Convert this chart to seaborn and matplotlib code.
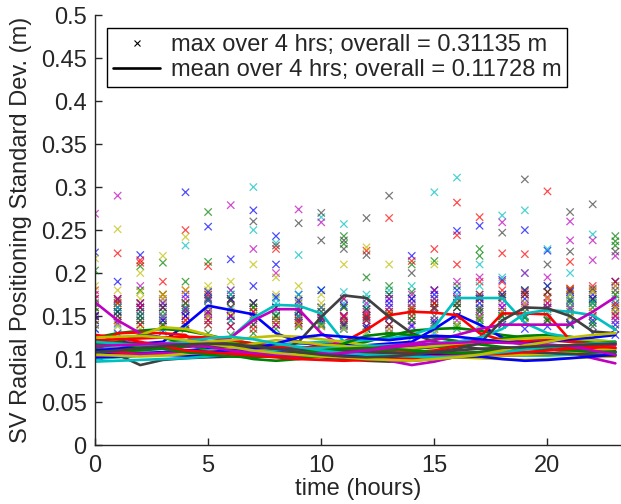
import numpy as np
import pandas as pd
import matplotlib
matplotlib.use("Agg")
import matplotlib.pyplot as plt
from matplotlib.lines import Line2D
from matplotlib.ticker import FuncFormatter
import seaborn as sns

# --- DATA: hourly 4-hr window stats per satellite, grouped by plot colour ---
hours = list(range(24))

blue_mean = [
    [0.118, 0.120, 0.118, 0.120, 0.140, 0.162, 0.157, 0.152, 0.130, 0.120, 0.115, 0.112, 0.110, 0.112, 0.115, 0.118, 0.120, 0.122, 0.120, 0.118, 0.116, 0.115, 0.114, 0.113],
    [0.105, 0.106, 0.107, 0.108, 0.110, 0.112, 0.113, 0.115, 0.117, 0.118, 0.118, 0.117, 0.116, 0.118, 0.120, 0.135, 0.152, 0.140, 0.125, 0.118, 0.115, 0.112, 0.110, 0.108],
    [0.102, 0.103, 0.104, 0.105, 0.104, 0.103, 0.104, 0.106, 0.108, 0.107, 0.105, 0.104, 0.103, 0.102, 0.104, 0.106, 0.105, 0.103, 0.100, 0.098, 0.099, 0.101, 0.103, 0.105],
    [0.110, 0.112, 0.115, 0.113, 0.110, 0.108, 0.110, 0.112, 0.118, 0.125, 0.128, 0.126, 0.124, 0.122, 0.125, 0.127, 0.126, 0.123, 0.120, 0.118, 0.120, 0.123, 0.125, 0.128],
]
green_mean = [
    [0.125, 0.130, 0.133, 0.135, 0.133, 0.128, 0.122, 0.118, 0.115, 0.113, 0.112, 0.115, 0.120, 0.127, 0.133, 0.135, 0.136, 0.133, 0.128, 0.125, 0.123, 0.122, 0.120, 0.118],
    [0.112, 0.120, 0.128, 0.125, 0.118, 0.110, 0.105, 0.100, 0.098, 0.100, 0.103, 0.106, 0.108, 0.110, 0.112, 0.114, 0.116, 0.120, 0.124, 0.127, 0.128, 0.126, 0.122, 0.118],
    [0.108, 0.109, 0.110, 0.112, 0.115, 0.117, 0.118, 0.116, 0.114, 0.112, 0.110, 0.118, 0.127, 0.130, 0.128, 0.125, 0.121, 0.117, 0.114, 0.112, 0.111, 0.110, 0.109, 0.108],
    [0.118, 0.117, 0.115, 0.112, 0.108, 0.105, 0.103, 0.102, 0.104, 0.107, 0.110, 0.112, 0.113, 0.112, 0.110, 0.108, 0.107, 0.108, 0.110, 0.112, 0.114, 0.116, 0.118, 0.120],
]
red_mean = [
    [0.115, 0.130, 0.131, 0.130, 0.128, 0.108, 0.106, 0.104, 0.103, 0.102, 0.104, 0.106, 0.108, 0.110, 0.112, 0.114, 0.116, 0.118, 0.120, 0.121, 0.122, 0.120, 0.118, 0.116],
    [0.122, 0.123, 0.124, 0.125, 0.126, 0.125, 0.122, 0.118, 0.115, 0.113, 0.115, 0.120, 0.134, 0.151, 0.155, 0.154, 0.151, 0.130, 0.122, 0.118, 0.115, 0.113, 0.112, 0.112],
    [0.110, 0.108, 0.106, 0.105, 0.106, 0.108, 0.110, 0.112, 0.114, 0.113, 0.111, 0.109, 0.108, 0.107, 0.108, 0.110, 0.115, 0.125, 0.153, 0.153, 0.152, 0.122, 0.115, 0.113],
    [0.128, 0.125, 0.120, 0.115, 0.110, 0.108, 0.106, 0.104, 0.102, 0.100, 0.099, 0.098, 0.099, 0.100, 0.101, 0.103, 0.104, 0.105, 0.106, 0.108, 0.110, 0.112, 0.114, 0.118],
]
cyan_mean = [
    [0.112, 0.113, 0.115, 0.118, 0.122, 0.125, 0.125, 0.148, 0.163, 0.162, 0.153, 0.120, 0.115, 0.112, 0.110, 0.108, 0.107, 0.106, 0.105, 0.104, 0.104, 0.105, 0.106, 0.107],
    [0.100, 0.102, 0.104, 0.106, 0.108, 0.110, 0.112, 0.114, 0.116, 0.118, 0.120, 0.121, 0.122, 0.124, 0.128, 0.137, 0.171, 0.171, 0.171, 0.142, 0.130, 0.125, 0.122, 0.120],
    [0.097, 0.098, 0.099, 0.100, 0.101, 0.103, 0.105, 0.108, 0.110, 0.112, 0.113, 0.114, 0.115, 0.116, 0.117, 0.118, 0.120, 0.125, 0.135, 0.153, 0.157, 0.155, 0.151, 0.134],
    [0.120, 0.118, 0.116, 0.117, 0.120, 0.124, 0.126, 0.123, 0.118, 0.114, 0.110, 0.107, 0.105, 0.104, 0.103, 0.102, 0.103, 0.105, 0.108, 0.111, 0.114, 0.116, 0.118, 0.119],
]
magenta_mean = [
    [0.166, 0.145, 0.130, 0.125, 0.122, 0.120, 0.118, 0.116, 0.115, 0.114, 0.113, 0.112, 0.110, 0.108, 0.107, 0.106, 0.107, 0.108, 0.110, 0.112, 0.114, 0.115, 0.116, 0.117],
    [0.108, 0.110, 0.112, 0.113, 0.114, 0.116, 0.125, 0.145, 0.158, 0.158, 0.130, 0.114, 0.105, 0.098, 0.093, 0.097, 0.103, 0.108, 0.111, 0.113, 0.112, 0.108, 0.101, 0.095],
    [0.104, 0.105, 0.106, 0.107, 0.108, 0.108, 0.107, 0.106, 0.105, 0.106, 0.108, 0.110, 0.112, 0.115, 0.118, 0.122, 0.128, 0.135, 0.140, 0.140, 0.140, 0.140, 0.155, 0.172],
    [0.115, 0.116, 0.117, 0.118, 0.117, 0.114, 0.110, 0.107, 0.105, 0.104, 0.105, 0.107, 0.110, 0.113, 0.116, 0.118, 0.119, 0.120, 0.119, 0.118, 0.117, 0.115, 0.110, 0.105],
]
yellow_mean = [
    [0.118, 0.122, 0.128, 0.137, 0.135, 0.128, 0.120, 0.115, 0.112, 0.110, 0.108, 0.107, 0.106, 0.105, 0.104, 0.103, 0.102, 0.101, 0.100, 0.099, 0.100, 0.101, 0.102, 0.103],
    [0.110, 0.112, 0.114, 0.116, 0.118, 0.120, 0.122, 0.125, 0.127, 0.126, 0.123, 0.120, 0.116, 0.113, 0.110, 0.107, 0.105, 0.104, 0.104, 0.105, 0.106, 0.108, 0.110, 0.112],
    [0.105, 0.104, 0.103, 0.104, 0.106, 0.108, 0.112, 0.118, 0.122, 0.120, 0.117, 0.115, 0.113, 0.112, 0.113, 0.115, 0.118, 0.120, 0.122, 0.124, 0.125, 0.124, 0.122, 0.120],
    [0.125, 0.126, 0.127, 0.125, 0.122, 0.118, 0.114, 0.110, 0.107, 0.105, 0.103, 0.102, 0.100, 0.099, 0.098, 0.100, 0.102, 0.105, 0.110, 0.116, 0.120, 0.125, 0.128, 0.130],
]
grey_mean = [
    [0.115, 0.105, 0.093, 0.099, 0.101, 0.102, 0.103, 0.104, 0.105, 0.104, 0.102, 0.100, 0.098, 0.097, 0.098, 0.100, 0.102, 0.103, 0.104, 0.105, 0.106, 0.107, 0.108, 0.109],
    [0.110, 0.111, 0.112, 0.112, 0.110, 0.108, 0.106, 0.105, 0.107, 0.120, 0.149, 0.174, 0.171, 0.149, 0.130, 0.120, 0.115, 0.112, 0.110, 0.108, 0.107, 0.106, 0.105, 0.104],
    [0.120, 0.119, 0.118, 0.117, 0.116, 0.115, 0.114, 0.113, 0.112, 0.111, 0.110, 0.109, 0.108, 0.107, 0.106, 0.108, 0.112, 0.118, 0.145, 0.160, 0.159, 0.150, 0.132, 0.130],
    [0.108, 0.110, 0.113, 0.115, 0.117, 0.118, 0.117, 0.115, 0.112, 0.108, 0.105, 0.103, 0.102, 0.103, 0.105, 0.108, 0.110, 0.112, 0.113, 0.114, 0.115, 0.116, 0.117, 0.118],
]

blue_max = [
    [0.224, 0.190, 0.221, 0.165, 0.294, 0.254, 0.216, 0.273, 0.243, 0.175, 0.160, 0.150, 0.145, 0.170, 0.220, 0.158, 0.165, 0.172, 0.160, 0.250, 0.226, 0.168, 0.175, 0.162],
    [0.145, 0.160, 0.150, 0.140, 0.175, 0.168, 0.150, 0.185, 0.210, 0.150, 0.140, 0.135, 0.138, 0.148, 0.160, 0.180, 0.249, 0.255, 0.192, 0.170, 0.160, 0.150, 0.145, 0.140],
    [0.135, 0.130, 0.128, 0.132, 0.140, 0.145, 0.138, 0.150, 0.160, 0.155, 0.145, 0.140, 0.135, 0.130, 0.138, 0.142, 0.150, 0.148, 0.140, 0.135, 0.138, 0.142, 0.130, 0.128],
    [0.150, 0.155, 0.160, 0.145, 0.150, 0.178, 0.170, 0.165, 0.172, 0.168, 0.180, 0.162, 0.158, 0.165, 0.170, 0.175, 0.180, 0.165, 0.175, 0.180, 0.185, 0.178, 0.170, 0.190],
]
green_max = [
    [0.203, 0.165, 0.208, 0.212, 0.190, 0.271, 0.175, 0.160, 0.150, 0.145, 0.148, 0.243, 0.170, 0.175, 0.210, 0.214, 0.185, 0.228, 0.170, 0.160, 0.158, 0.155, 0.160, 0.243],
    [0.150, 0.170, 0.180, 0.175, 0.160, 0.213, 0.150, 0.140, 0.135, 0.138, 0.142, 0.150, 0.148, 0.152, 0.155, 0.160, 0.165, 0.220, 0.175, 0.180, 0.178, 0.170, 0.165, 0.237],
    [0.140, 0.145, 0.150, 0.155, 0.165, 0.170, 0.168, 0.160, 0.150, 0.145, 0.140, 0.234, 0.195, 0.185, 0.178, 0.170, 0.160, 0.155, 0.150, 0.148, 0.145, 0.140, 0.142, 0.232],
    [0.160, 0.155, 0.145, 0.140, 0.135, 0.130, 0.128, 0.130, 0.140, 0.150, 0.155, 0.160, 0.158, 0.150, 0.145, 0.140, 0.138, 0.145, 0.150, 0.155, 0.160, 0.165, 0.168, 0.175],
]
red_max = [
    [0.180, 0.223, 0.215, 0.190, 0.250, 0.208, 0.160, 0.150, 0.145, 0.140, 0.138, 0.142, 0.150, 0.155, 0.160, 0.165, 0.170, 0.175, 0.180, 0.178, 0.172, 0.213, 0.165, 0.160],
    [0.165, 0.170, 0.212, 0.175, 0.180, 0.175, 0.170, 0.165, 0.160, 0.155, 0.160, 0.170, 0.226, 0.264, 0.214, 0.228, 0.282, 0.265, 0.190, 0.175, 0.165, 0.160, 0.155, 0.150],
    [0.150, 0.145, 0.140, 0.138, 0.140, 0.145, 0.150, 0.155, 0.228, 0.160, 0.150, 0.148, 0.145, 0.140, 0.150, 0.165, 0.244, 0.190, 0.223, 0.222, 0.295, 0.180, 0.170, 0.165],
    [0.170, 0.165, 0.160, 0.150, 0.145, 0.140, 0.138, 0.135, 0.140, 0.145, 0.148, 0.150, 0.152, 0.155, 0.158, 0.160, 0.210, 0.170, 0.172, 0.175, 0.178, 0.182, 0.185, 0.190],
]
cyan_max = [
    [0.150, 0.155, 0.160, 0.165, 0.232, 0.175, 0.180, 0.300, 0.235, 0.221, 0.265, 0.257, 0.170, 0.160, 0.150, 0.145, 0.140, 0.145, 0.150, 0.148, 0.145, 0.140, 0.142, 0.145],
    [0.135, 0.140, 0.145, 0.150, 0.155, 0.160, 0.158, 0.165, 0.170, 0.175, 0.180, 0.178, 0.175, 0.180, 0.185, 0.294, 0.311, 0.210, 0.267, 0.200, 0.185, 0.175, 0.170, 0.165],
    [0.125, 0.128, 0.130, 0.135, 0.138, 0.140, 0.145, 0.150, 0.155, 0.158, 0.160, 0.165, 0.162, 0.160, 0.165, 0.170, 0.175, 0.185, 0.195, 0.273, 0.228, 0.200, 0.245, 0.190],
    [0.165, 0.160, 0.155, 0.150, 0.160, 0.170, 0.175, 0.250, 0.165, 0.150, 0.140, 0.135, 0.130, 0.128, 0.125, 0.130, 0.135, 0.140, 0.145, 0.150, 0.155, 0.160, 0.165, 0.170],
]
magenta_max = [
    [0.269, 0.290, 0.185, 0.170, 0.165, 0.160, 0.279, 0.155, 0.150, 0.148, 0.145, 0.140, 0.138, 0.135, 0.140, 0.145, 0.150, 0.155, 0.160, 0.165, 0.170, 0.175, 0.180, 0.185],
    [0.150, 0.155, 0.160, 0.165, 0.170, 0.172, 0.180, 0.228, 0.200, 0.274, 0.259, 0.170, 0.150, 0.140, 0.130, 0.135, 0.145, 0.150, 0.155, 0.160, 0.165, 0.238, 0.215, 0.150],
    [0.140, 0.142, 0.145, 0.148, 0.150, 0.152, 0.150, 0.148, 0.145, 0.150, 0.155, 0.160, 0.165, 0.170, 0.175, 0.180, 0.190, 0.195, 0.259, 0.200, 0.195, 0.260, 0.238, 0.220],
    [0.175, 0.170, 0.165, 0.160, 0.158, 0.155, 0.150, 0.145, 0.140, 0.142, 0.148, 0.150, 0.155, 0.160, 0.165, 0.170, 0.172, 0.170, 0.165, 0.162, 0.160, 0.158, 0.150, 0.145],
]
yellow_max = [
    [0.217, 0.251, 0.200, 0.220, 0.242, 0.180, 0.170, 0.160, 0.155, 0.150, 0.145, 0.140, 0.138, 0.135, 0.130, 0.132, 0.135, 0.138, 0.140, 0.142, 0.145, 0.148, 0.150, 0.152],
    [0.160, 0.165, 0.170, 0.175, 0.180, 0.185, 0.190, 0.210, 0.195, 0.185, 0.175, 0.210, 0.230, 0.210, 0.160, 0.210, 0.150, 0.145, 0.140, 0.142, 0.145, 0.150, 0.155, 0.160],
    [0.140, 0.138, 0.135, 0.140, 0.145, 0.150, 0.155, 0.165, 0.175, 0.170, 0.165, 0.160, 0.155, 0.152, 0.155, 0.160, 0.165, 0.170, 0.175, 0.180, 0.185, 0.182, 0.178, 0.175],
    [0.185, 0.180, 0.178, 0.170, 0.165, 0.160, 0.155, 0.150, 0.145, 0.140, 0.138, 0.135, 0.132, 0.130, 0.128, 0.135, 0.140, 0.148, 0.155, 0.165, 0.170, 0.175, 0.180, 0.185],
]
grey_max = [
    [0.160, 0.150, 0.140, 0.145, 0.150, 0.155, 0.160, 0.260, 0.232, 0.165, 0.270, 0.238, 0.264, 0.175, 0.170, 0.165, 0.160, 0.158, 0.155, 0.150, 0.148, 0.271, 0.150, 0.155],
    [0.155, 0.160, 0.165, 0.160, 0.155, 0.150, 0.145, 0.140, 0.150, 0.258, 0.238, 0.228, 0.221, 0.290, 0.200, 0.180, 0.170, 0.160, 0.155, 0.150, 0.145, 0.140, 0.138, 0.135],
    [0.170, 0.168, 0.165, 0.160, 0.158, 0.155, 0.150, 0.148, 0.145, 0.142, 0.140, 0.138, 0.135, 0.140, 0.145, 0.150, 0.160, 0.175, 0.247, 0.309, 0.210, 0.225, 0.280, 0.225],
    [0.145, 0.150, 0.155, 0.160, 0.165, 0.170, 0.168, 0.165, 0.160, 0.155, 0.150, 0.145, 0.148, 0.150, 0.155, 0.160, 0.165, 0.170, 0.172, 0.175, 0.178, 0.180, 0.182, 0.180],
]

overall_max = 0.31135
overall_mean = 0.11728

# MATLAB-style 'bgrcmyk' colour cycle
color_names = ["blue", "green", "red", "cyan", "magenta", "yellow", "grey"]
color_values = {
    "blue": (0.0, 0.0, 1.0),
    "green": (0.0, 0.5, 0.0),
    "red": (1.0, 0.0, 0.0),
    "cyan": (0.0, 0.75, 0.75),
    "magenta": (0.75, 0.0, 0.75),
    "yellow": (0.75, 0.75, 0.0),
    "grey": (0.25, 0.25, 0.25),
}
means_by_color = {"blue": blue_mean, "green": green_mean, "red": red_mean, "cyan": cyan_mean,
                  "magenta": magenta_mean, "yellow": yellow_mean, "grey": grey_mean}
maxes_by_color = {"blue": blue_max, "green": green_max, "red": red_max, "cyan": cyan_max,
                  "magenta": magenta_max, "yellow": yellow_max, "grey": grey_max}

# --- build long-form table, satellites interleaved through the colour cycle ---
rows = []
palette = {}
for k in range(4):
    for cname in color_names:
        sv = f"SV{len(palette) + 1:02d}"
        palette[sv] = color_values[cname]
        for h in hours:
            rows.append({"sv": sv, "hour": h,
                         "mean": means_by_color[cname][k][h],
                         "max": maxes_by_color[cname][k][h]})
df = pd.DataFrame(rows)
sv_order = list(palette.keys())

# --- plot ---
sns.set_style("ticks")
plt.rcParams["font.family"] = ["Liberation Sans", "DejaVu Sans"]

fig = plt.figure(figsize=(6.21, 5.04), dpi=100)
ax = fig.add_axes([0.153, 0.117, 0.847, 0.853])

sns.scatterplot(data=df, x="hour", y="max", hue="sv", hue_order=sv_order, palette=palette,
                marker="x", s=28, linewidth=0.9, alpha=0.7, legend=False, ax=ax)
sns.lineplot(data=df, x="hour", y="mean", hue="sv", hue_order=sv_order, palette=palette,
             estimator=None, linewidth=1.9, legend=False, ax=ax)

ax.set_xlim(0, 23.25)
ax.set_ylim(0, 0.5)
ax.set_xticks([0, 5, 10, 15, 20])
ax.set_yticks(np.arange(0, 0.51, 0.05))
ax.yaxis.set_major_formatter(FuncFormatter(lambda v, p: f"{v:g}"))
ax.tick_params(direction="in", length=5, labelsize=17, width=1)
ax.tick_params(axis="x", pad=7)
ax.tick_params(axis="y", pad=6)
ax.set_xlabel("time (hours)", fontsize=17, labelpad=1)
ax.set_ylabel("SV Radial Positioning Standard Dev. (m)", fontsize=17, labelpad=6)
sns.despine(ax=ax)
for side in ["left", "bottom"]:
    ax.spines[side].set_linewidth(1.0)

handles = [
    Line2D([], [], color="black", marker="x", linestyle="none", markersize=5, markeredgewidth=0.8),
    Line2D([], [], color="black", linewidth=1.9),
]
labels = [f"max over 4 hrs; overall = {overall_max:.5f} m",
          f"mean over 4 hrs; overall = {overall_mean:.5f} m"]
leg = ax.legend(handles, labels, loc="upper left", bbox_to_anchor=(0.023, 0.97),
                borderaxespad=0, fontsize=17, handlelength=2.0, handletextpad=0.45,
                labelspacing=0.15, borderpad=0.25, fancybox=False, framealpha=1)
leg.get_frame().set_edgecolor("black")
leg.get_frame().set_linewidth(1.0)

fig.savefig("out.png", dpi=100)
